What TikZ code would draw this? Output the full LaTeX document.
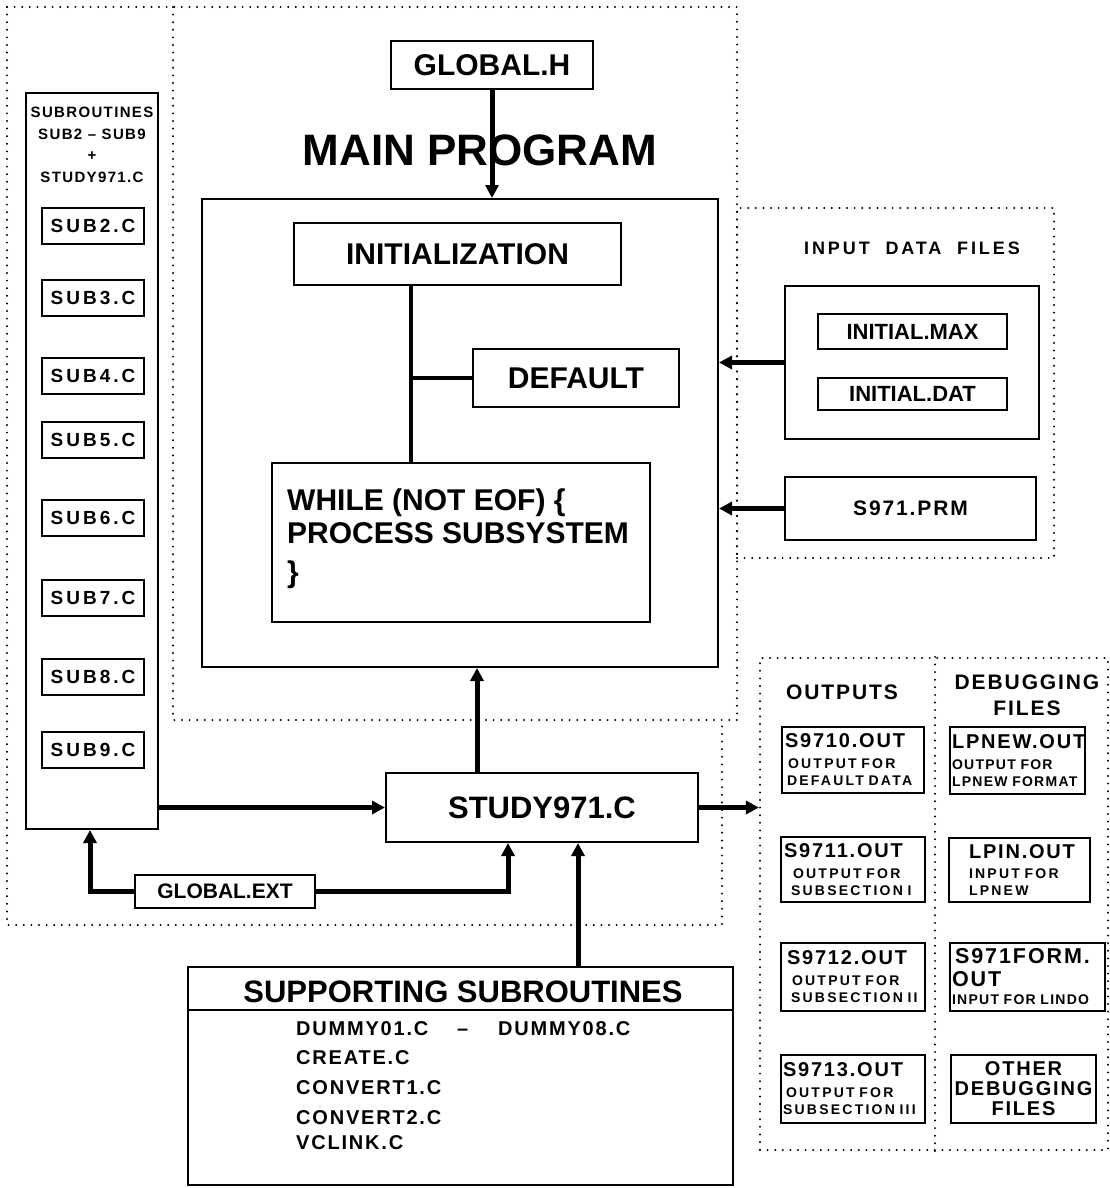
\documentclass[tikz,border=0pt]{standalone}
\usepackage{fontspec}
\setmainfont{Liberation Sans}
\newfontfamily\trk[LetterSpace=9]{Liberation Sans}
\newfontfamily\wtrk[LetterSpace=16]{Liberation Sans}
\usetikzlibrary{arrows.meta}
\newcommand\fsz[2]{\fontsize{#1}{#2}\selectfont\bfseries}
\hyphenpenalty=10000
\exhyphenpenalty=10000

\begin{document}
\begin{tikzpicture}[x=1pt,y=-1pt,
  box/.style={draw,line width=2pt,inner sep=0pt},
  conn/.style={line width=5pt},
  arr/.style={line width=5pt,-{Triangle[length=13pt,width=13pt]}},
  dots/.style={line width=2.2pt,line cap=round,dash pattern=on 0pt off 7.6pt},
  txt/.style={inner sep=0pt},
  subbx/.style={box,minimum width=102pt,minimum height=36pt,font=\wtrk\fsz{19}{20}},
  outbx/.style={box,align=left,inner xsep=3pt,font=\wtrk\fsz{14}{17}},
]
\useasboundingbox (0,0) rectangle (1110,1188);

% dotted regions around the program parts
\draw[dots] (7,7) -- (737,7) -- (737,720);
\draw[dots] (173,7) -- (173,720) -- (737,720);
\draw[dots] (7,7) -- (7,925) -- (722,925) -- (722,720);

% ---------------- main program ----------------
\node[box,minimum width=202pt,minimum height=48pt,font=\fsz{30}{30}] (gh) at (492,65) {GLOBAL.H};
\node[txt,font=\fsz{44}{44}] (title) at (480,150) {MAIN PROGRAM};
\node[box,minimum width=516pt,minimum height=468pt] (main) at (460,433) {};
\draw[arr] (gh.south) -- (gh.south |- main.north);

\node[box,minimum width=327pt,minimum height=62pt,font=\fsz{30}{30}] (init) at (457.5,254) {INITIALIZATION};
\node[box,minimum width=206pt,minimum height=58pt,font=\fsz{30}{30}] (dflt) at (576,378) {DEFAULT};
\node[box,minimum width=378pt,minimum height=159pt] (loop) at (461,542.5) {};
\node[txt,anchor=north west,align=left,font=\fsz{30}{33}] (looptxt) at (287,489)
  {WHILE (NOT EOF) \{\\PROCESS SUBSYSTEM\\[6pt]\}};
\coordinate (spine) at (411,0);
\draw[line width=4.5pt] (init.south -| spine) -- (loop.north -| spine);
\draw[line width=4.5pt] (dflt.west) -- (dflt.west -| spine);

% ---------------- input data files ----------------
\node[draw,dots,minimum width=317pt,minimum height=350pt,inner sep=0pt] (inbox) at (895.5,383) {};
\node[txt,font=\wtrk\fsz{18}{20}] (intitle) at (912,248) {INPUT\ \ DATA\ \ FILES};
\node[box,minimum width=254pt,minimum height=153pt] (grp) at (912,362.5) {};
\node[box,minimum width=189pt,minimum height=35pt,font=\fsz{22}{22}] (imax) at (912.5,331.5) {INITIAL.MAX};
\node[box,minimum width=189pt,minimum height=32pt,font=\fsz{22}{22}] (idat) at (912.5,394) {INITIAL.DAT};
\node[box,minimum width=251pt,minimum height=63pt,font=\trk\fsz{21}{21}] (prm) at (910.5,508.5) {S971.PRM};
\draw[arr] (grp.west) -- (grp.west -| main.east);
\draw[arr] (prm.west) -- (prm.west -| main.east);

% ---------------- subroutines column ----------------
\node[box,minimum width=132pt,minimum height=736pt] (subs) at (92,461) {};
\node[txt,align=center,font=\trk\fsz{15}{21.5}] (subhdr) at (92,145)
  {SUBROUTINES\\SUB2 \textendash\ SUB9\\+\\STUDY971.C};
\foreach \n/\y in {2/225.5,3/298,4/376,5/440,6/518,7/598,8/677,9/750}
  \node[subbx] (s\n) at (93,\y) {SUB\n.C};

% ---------------- study971 and its links ----------------
\node[box,minimum width=312pt,minimum height=69pt,font=\fsz{31}{31}] (study) at (542,807.5) {STUDY971.C};
\node[box,minimum width=180pt,minimum height=33pt,font=\fsz{21}{21}] (gext) at (225,891.5) {GLOBAL.EXT};
\coordinate (up) at (477,0);
\coordinate (gl) at (90,0);
\coordinate (gr) at (508,0);
\coordinate (sa) at (578,0);
\draw[arr] (subs.east |- study.west) -- (study.west);
\draw[arr] (study.north -| up) -- (main.south -| up);
\draw[arr] (gext.west) -| (gl |- subs.south);
\draw[arr] (gext.east) -| (gr |- study.south);

% ---------------- supporting subroutines ----------------
\node[box,minimum width=545pt,minimum height=218pt] (supp) at (460.5,1076) {};
\draw[line width=2pt] (supp.west |- 0,1010) -- (supp.east |- 0,1010);
\node[txt,font=\fsz{31}{31}] (supptitle) at (463,992) {SUPPORTING SUBROUTINES};
\draw[arr] (supp.north -| sa) -- (study.south -| sa);
\begin{scope}[every node/.style={txt,anchor=base west,font=\trk\fsz{20}{20}}]
  \node (d01) at (296,1035) {DUMMY01.C};
  \node (dsh) at (457,1035) {\textendash};
  \node (d08) at (498,1035) {DUMMY08.C};
  \node (cre) at (296,1064) {CREATE.C};
  \node (cv1) at (296,1094) {CONVERT1.C};
  \node (cv2) at (296,1124) {CONVERT2.C};
  \node (vcl) at (296,1149) {VCLINK.C};
\end{scope}

% ---------------- outputs and debugging files ----------------
\node[draw,dots,minimum width=348pt,minimum height=492pt,inner sep=0pt] (outbox) at (934,904) {};
\coordinate (dv) at (935,0);
\draw[dots] (outbox.north -| dv) -- (outbox.south -| dv);
\draw[arr] (study.east) -- (study.east -| outbox.west);

\node[txt,font=\trk\fsz{21}{21}] (outt) at (842,692) {OUTPUTS};
\node[txt,align=center,font=\trk\fsz{21}{26}] (dbgt) at (1027,695) {DEBUGGING\\FILES};

\node[outbx,text width=136pt,minimum height=66pt] (o0) at (853,760)
  {{\trk\fsz{20}{20}S9710.OUT}\\[4pt]\hspace*{3pt}OUTPUT FOR\\\hspace*{2pt}DEFAULT DATA};
\node[outbx,text width=138pt,minimum height=65pt] (o1) at (853,869.5)
  {{\trk\fsz{20}{20}S9711.OUT}\\[4pt]\hspace*{9pt}OUTPUT FOR\\\hspace*{7pt}SUBSECTION I};
\node[outbx,text width=138pt,minimum height=68pt] (o2) at (853,977)
  {{\trk\fsz{20}{20}\hspace*{3pt}S9712.OUT}\\[4pt]\hspace*{8pt}OUTPUT FOR\\\hspace*{7pt}SUBSECTION II};
\node[outbx,text width=140pt,minimum height=68pt,inner xsep=2pt] (o3) at (853,1089)
  {{\trk\fsz{20}{20}S9713.OUT}\\[4pt]\hspace*{3pt}OUTPUT FOR\\SUBSECTION III};

\node[outbx,text width=131pt,minimum height=67pt,inner xsep=2pt,font=\trk\fsz{14}{17}] (g0) at (1017.5,760.5)
  {{\trk\fsz{20}{20}LPNEW.OUT}\\[4pt]OUTPUT FOR\\LPNEW FORMAT};
\node[outbx,text width=101pt,minimum height=64pt,inner xsep=20pt] (g1) at (1019.5,870)
  {{\trk\fsz{20}{20}LPIN.OUT}\\[3pt]INPUT FOR\\LPNEW};
\node[outbx,text width=151pt,minimum height=68pt,inner xsep=2pt,font=\trk\fsz{14}{17}] (g2) at (1027.5,977)
  {{\trk\fsz{21.5}{21}\hspace*{3pt}S971FORM.}\\[6pt]{\trk\fsz{21.5}{21}OUT}\\[1pt]INPUT FOR LINDO};
\node[box,minimum width=145pt,minimum height=68pt,align=center,font=\trk\fsz{20}{20}] (g3) at (1023.5,1089)
  {OTHER\\DEBUGGING\\FILES};
\end{tikzpicture}
\end{document}
